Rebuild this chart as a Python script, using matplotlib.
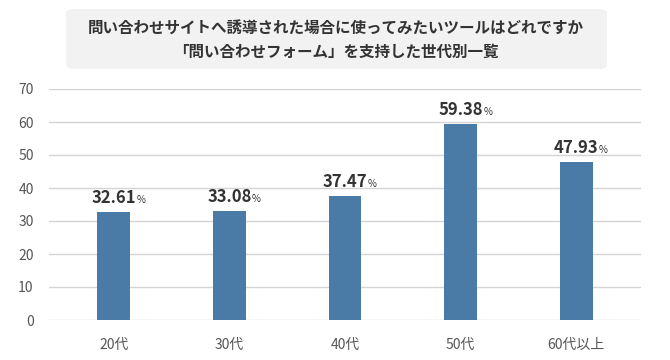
import matplotlib.pyplot as plt
from matplotlib.patches import FancyBboxPatch

plt.rcParams['font.family'] = ['Noto Sans CJK JP', 'DejaVu Sans']

# データ
categories = ["20代", "30代", "40代", "50代", "60代以上"]
values = [32.61, 33.08, 37.47, 59.38, 47.93]
title_lines = ["問い合わせサイトへ誘導された場合に使ってみたいツールはどれですか",
               "「問い合わせフォーム」を支持した世代別一覧"]

bar_color = "#4a7ba7"
text_color = "#333333"

fig = plt.figure(figsize=(6.7, 3.6), dpi=100)
ax = fig.add_axes([49 / 670, 40 / 360, 592 / 670, 231 / 360])

x = range(len(categories))
ax.bar(x, values, width=0.285, color=bar_color, zorder=3)

ax.set_xlim(-0.56, len(categories) - 0.44)
ax.set_ylim(0, 70)
ax.set_yticks(range(0, 71, 10))
ax.set_xticks(list(x))
ax.set_xticklabels(categories)
ax.yaxis.grid(True, color="#d4d4d4", linewidth=1, zorder=0)
for s in ["top", "right", "left", "bottom"]:
    ax.spines[s].set_visible(False)
ax.tick_params(axis="both", length=0, labelsize=10, colors="#555555")
ax.tick_params(axis="y", pad=11)
ax.tick_params(axis="x", pad=13)

# 値ラベル（数値 + 小さい%）
fig.canvas.draw()
renderer = fig.canvas.get_renderer()
for xi, v in zip(x, values):
    num = ax.annotate(f"{v:.2f}", (xi, v), xytext=(0, 6.5), textcoords="offset points",
                      ha="center", va="baseline", fontsize=12, fontweight="bold",
                      color=text_color)
    bb = num.get_window_extent(renderer)
    px, py = ax.transData.transform((xi, v))
    ax.annotate("%", (bb.x1, py), xycoords="figure pixels", xytext=(0.3, 6.5),
                textcoords="offset points", ha="left", va="baseline", fontsize=7,
                color=text_color)

# タイトルボックス
box = FancyBboxPatch((66 / 670, (360 - 69) / 360), 541 / 670, 60 / 360,
                     boxstyle="round,pad=0,rounding_size=0.012",
                     transform=fig.transFigure, facecolor="#f2f2f2",
                     edgecolor="none")
fig.patches.append(box)
fig.text(336 / 670, 1 - 29 / 360, title_lines[0], ha="center", va="center",
         fontsize=11.2, fontweight="bold", color=text_color)
fig.text(336 / 670, 1 - 52 / 360, title_lines[1], ha="center", va="center",
         fontsize=11.2, fontweight="bold", color=text_color)

plt.savefig("out.png", dpi=100)
